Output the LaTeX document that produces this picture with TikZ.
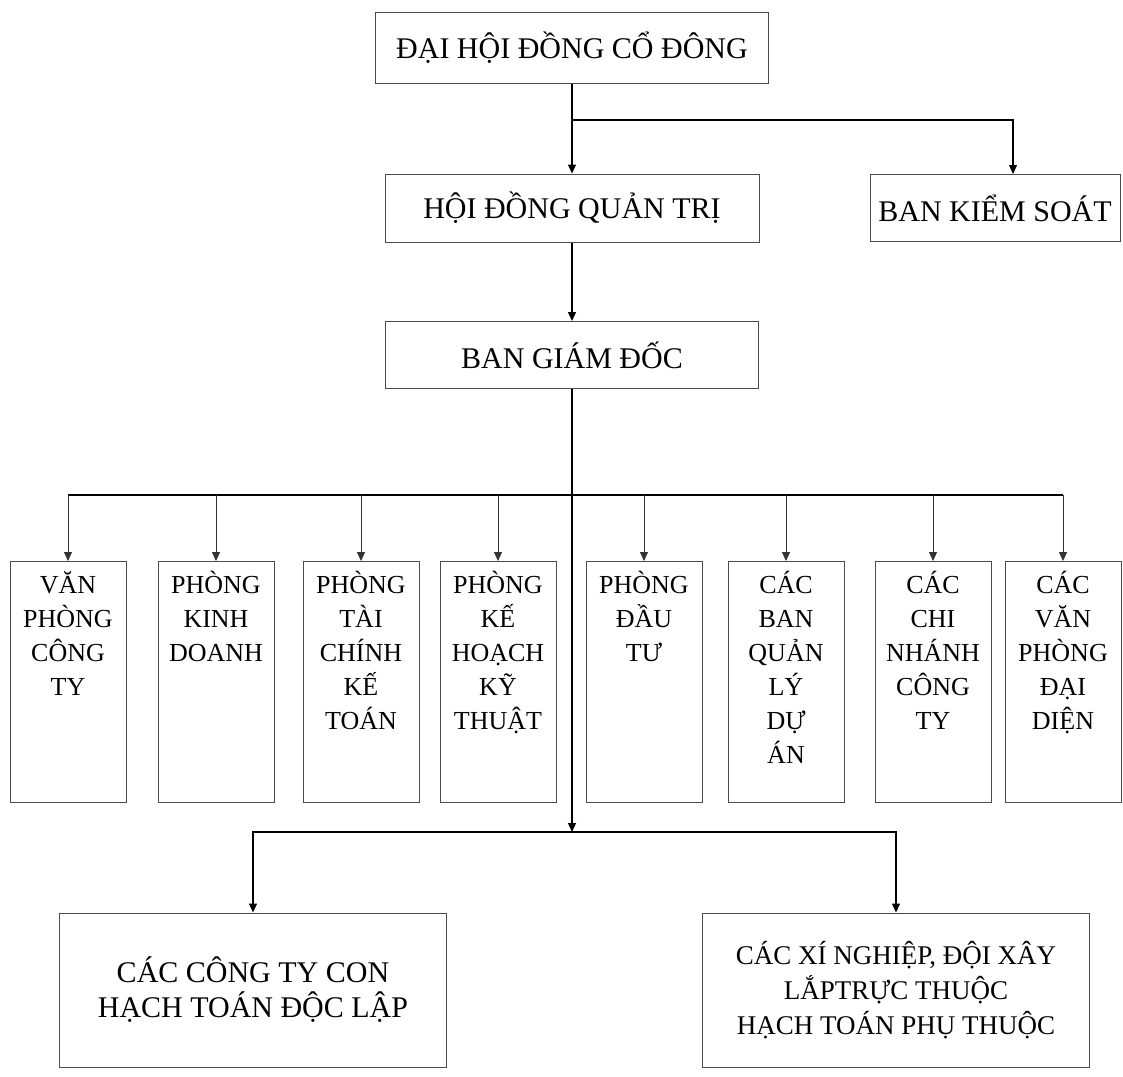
\documentclass[tikz,border=0pt]{standalone}
\usepackage{fontspec}
\setmainfont{Liberation Serif}
\usetikzlibrary{arrows.meta}

\begin{document}
\begin{tikzpicture}[
  x=1pt, y=-1pt,
  unit/.style={draw=black!70, line width=1pt, inner sep=0pt, align=center, font=\fontsize{30}{35}\selectfont},
  dept/.style={draw=black!70, line width=1pt, anchor=north, minimum width=116pt, minimum height=241pt},
  depttext/.style={anchor=north, inner sep=0pt, align=center, font=\fontsize{26}{34}\selectfont},
  link/.style={draw=black, line width=1.3pt, -{Triangle[length=9pt,width=8pt]}},
  drop/.style={draw=black!80, line width=0.8pt, -{Triangle[length=9pt,width=8pt]}},
  bus/.style={draw=black, line width=1.3pt}
]
\useasboundingbox (0,0) rectangle (1123,1076);

\node[unit, minimum width=393pt, minimum height=71pt] (dhdcd) at (572,48) {ĐẠI HỘI ĐỒNG CỔ ĐÔNG};
\node[unit, minimum width=374pt, minimum height=68pt] (hdqt) at (572,208) {HỘI ĐỒNG QUẢN TRỊ};
\node[unit, minimum width=250pt, minimum height=67pt] (bks) at (995,208) {BAN KIỂM SOÁT};
\node[unit, minimum width=373pt, minimum height=67pt] (bgd) at (572,355) {BAN GIÁM ĐỐC};

% phong ban
\node[dept] (d1) at (68,561) {};
\node[dept] (d2) at (216,561) {};
\node[dept] (d3) at (361,561) {};
\node[dept] (d4) at (498,561) {};
\node[dept] (d5) at (644,561) {};
\node[dept] (d6) at (786,561) {};
\node[dept] (d7) at (933,561) {};
\node[dept] (d8) at (1063,561) {};
\node[depttext] at ([yshift=-10pt]d1.north) {VĂN\\PHÒNG\\CÔNG\\TY};
\node[depttext] at ([yshift=-10pt]d2.north) {PHÒNG\\KINH\\DOANH};
\node[depttext] at ([yshift=-10pt]d3.north) {PHÒNG\\TÀI\\CHÍNH\\KẾ\\TOÁN};
\node[depttext] at ([yshift=-10pt]d4.north) {PHÒNG\\KẾ\\HOẠCH\\KỸ\\THUẬT};
\node[depttext] at ([yshift=-10pt]d5.north) {PHÒNG\\ĐẦU\\TƯ};
\node[depttext] at ([yshift=-10pt]d6.north) {CÁC\\BAN\\QUẢN\\LÝ\\DỰ\\ÁN};
\node[depttext] at ([yshift=-10pt]d7.north) {CÁC\\CHI\\NHÁNH\\CÔNG\\TY};
\node[depttext] at ([yshift=-10pt]d8.north) {CÁC\\VĂN\\PHÒNG\\ĐẠI\\DIỆN};

\node[unit, minimum width=387pt, minimum height=154pt] (cty) at (253,990) {CÁC CÔNG TY CON\\HẠCH TOÁN ĐỘC LẬP};
\node[unit, minimum width=387pt, minimum height=154pt, font=\fontsize{27}{35}\selectfont] (xn) at (896,990) {CÁC XÍ NGHIỆP, ĐỘI XÂY\\LẮPTRỰC THUỘC\\HẠCH TOÁN PHỤ THUỘC};

\coordinate (j1) at (572,120);
\coordinate (b1) at (68,495);
\coordinate (b8) at (1063,495);
\coordinate (j2) at (572,832);

\draw[link] (dhdcd.south) -- (hdqt.north);
\draw[link] (j1) -| ([xshift=18pt]bks.north);
\draw[link] (hdqt.south) -- (bgd.north);
\draw[link] (bgd.south) -- (j2);
\draw[bus] (b1) -- (b8);
\draw[drop] (b1) -- (d1.north);
\draw[drop] (d2.north |- b1) -- (d2.north);
\draw[drop] (d3.north |- b1) -- (d3.north);
\draw[drop] (d4.north |- b1) -- (d4.north);
\draw[drop] (d5.north |- b1) -- (d5.north);
\draw[drop] (d6.north |- b1) -- (d6.north);
\draw[drop] (d7.north |- b1) -- (d7.north);
\draw[drop] (b8) -- (d8.north);
\draw[link] (j2) -| (cty.north);
\draw[link] (j2) -| (xn.north);
\end{tikzpicture}
\end{document}
